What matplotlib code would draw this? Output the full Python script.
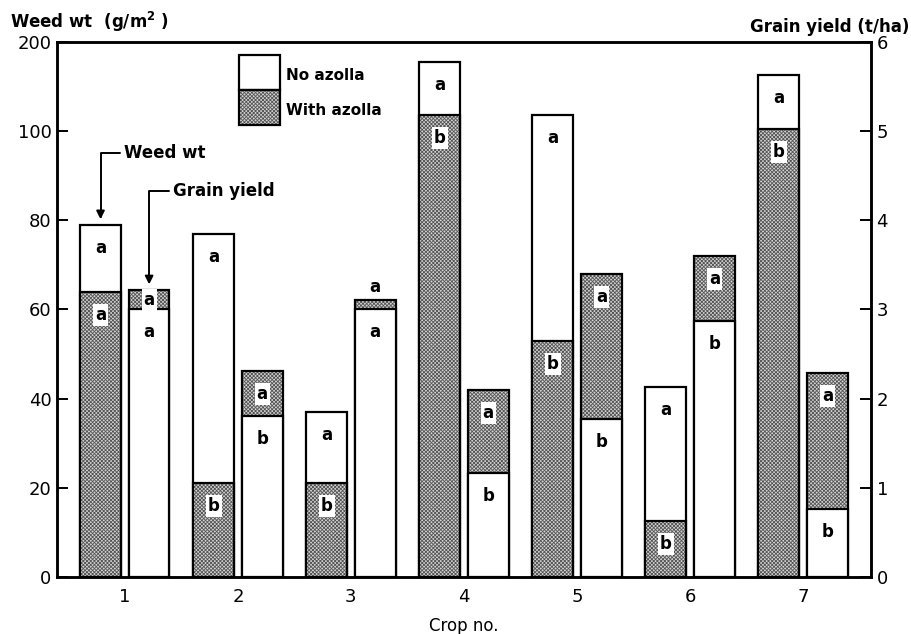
import numpy as np
import matplotlib
matplotlib.use('Agg')
from matplotlib import pyplot as plt
from matplotlib.patches import Rectangle

plt.rcParams['font.family'] = 'DejaVu Sans'
plt.rcParams['hatch.linewidth'] = 0.6

crops = [1, 2, 3, 4, 5, 6, 7]

# weed weight, g/m2
weed_no_azolla = [79, 77, 37, 115.5, 103.5, 42.5, 112.5]
weed_with_azolla = [64, 21, 21, 103.5, 53, 12.5, 100.5]
weed_no_letter = ['a', 'a', 'a', 'a', 'a', 'a', 'a']
weed_with_letter = ['a', 'b', 'b', 'b', 'b', 'b', 'b']

# grain yield, t/ha
grain_no_azolla = [3.0, 1.8, 3.0, 1.17, 1.77, 2.87, 0.76]
grain_with_azolla = [3.22, 2.31, 3.1, 2.1, 3.4, 3.6, 2.29]
grain_no_letter = ['a', 'b', 'a', 'b', 'b', 'b', 'b']
grain_with_letter = ['a', 'a', 'a', 'a', 'a', 'a', 'a']

left_ticks = [0, 20, 40, 60, 80, 100, 120]
left_ticklabels = ['0', '20', '40', '60', '80', '100', '200']
right_ticks = [0, 1, 2, 3, 4, 5, 6]

W = 0.36
OFF = 0.215
HATCH = 'x' * 9
SHADE_FC = '#d4d4d4'
SHADE_HC = '#555555'

fig = plt.figure(figsize=(9.12, 6.34), dpi=100)
ax = fig.add_axes([0.0625, 0.09, 0.8925, 0.844])
ax2 = ax.twinx()

def shaded_bar(a, x, v, z):
    # stipple fill first, then a plain black outline on top
    a.bar(x, v, W, color=SHADE_FC, hatch=HATCH, edgecolor=SHADE_HC, linewidth=0, zorder=z)
    a.bar(x, v, W, fill=False, edgecolor='black', linewidth=1.6, zorder=z)

def draw_pair(a, x, no_val, with_val, no_lab, with_lab, scale):
    # taller bar goes behind, shorter one in front
    bars = [(no_val, False, no_lab), (with_val, True, with_lab)]
    bars.sort(key=lambda b: -b[0])
    tops = [b[0] for b in bars]
    for i, (v, shaded, lab) in enumerate(bars):
        if shaded:
            shaded_bar(a, x, v, 2 + i)
        else:
            a.bar(x, v, W, color='white', edgecolor='black', linewidth=1.6, zorder=2 + i)
    # letters: top segment of the taller bar, then the front bar
    seg = [(tops[0], tops[0] - tops[1]), (tops[1], tops[1])]
    for (top, height), b in zip(seg, bars):
        px_h = height / scale * 4.47
        if px_h < 14:
            dy, va = 4, 'bottom'
            bb = None
        else:
            dy, va = -min(23, px_h / 2), 'center'
            bb = dict(boxstyle='square,pad=0.12', fc='white', ec='none') if b[1] else None
        a.annotate(b[2], (x, top), xytext=(0, dy), textcoords='offset pixels',
                   ha='center', va=va, fontsize=12, fontweight='bold', zorder=6,
                   bbox=bb)

for i, c in enumerate(crops):
    draw_pair(ax, c - OFF, weed_no_azolla[i], weed_with_azolla[i],
              weed_no_letter[i], weed_with_letter[i], 1.0)
    draw_pair(ax2, c + OFF, grain_no_azolla[i], grain_with_azolla[i],
              grain_no_letter[i], grain_with_letter[i], 0.05)

ax.set_xlim(0.4, 7.6)
ax.set_ylim(0, 120)
ax2.set_ylim(0, 6)
ax.set_xticks(crops)
ax.set_xticklabels([str(c) for c in crops])
ax.set_yticks(left_ticks)
ax.set_yticklabels(left_ticklabels)
ax2.set_yticks(right_ticks)
ax.tick_params(axis='x', length=0, labelsize=13, pad=8)
ax.tick_params(axis='y', direction='in', length=8, width=1.4, labelsize=13, pad=4)
ax2.tick_params(axis='y', direction='in', length=8, width=1.4, labelsize=13, pad=4)
for a in (ax, ax2):
    for s in a.spines.values():
        s.set_linewidth(1.8)
ax.set_xlabel('Crop no.', fontsize=12, labelpad=8)

fig.text(0.011, 0.965, 'Weed wt  (g/m$^\\mathbf{2}$ )', fontsize=12, fontweight='bold',
         va='center')
fig.text(0.997, 0.958, 'Grain yield (t/ha)', fontsize=12, fontweight='bold',
         va='center', ha='right')

# legend
tr = ax.transAxes
ax.add_patch(Rectangle((0.2236, 0.910), 0.0504, 0.066, transform=tr, fc='white',
                       ec='black', lw=1.6, zorder=5))
ax.add_patch(Rectangle((0.2236, 0.845), 0.0504, 0.065, transform=tr, fc=SHADE_FC,
                       ec=SHADE_HC, lw=0, hatch=HATCH, zorder=5))
ax.add_patch(Rectangle((0.2236, 0.845), 0.0504, 0.065, transform=tr, fill=False,
                       ec='black', lw=1.6, zorder=5))
ax.text(0.281, 0.938, 'No azolla', transform=tr, fontsize=11, fontweight='bold',
        va='center')
ax.text(0.281, 0.871, 'With azolla', transform=tr, fontsize=11, fontweight='bold',
        va='center')

# pointers to the first pair of bars
ax.annotate('Weed wt', xy=(1 - OFF, weed_no_azolla[0] + 1.2), xytext=(0.99, 95),
            fontsize=12, fontweight='bold', va='center', ha='left',
            arrowprops=dict(arrowstyle='-|>', lw=1.4, color='black',
                            connectionstyle='angle,angleA=180,angleB=90,rad=0',
                            shrinkA=1, shrinkB=0))
ax.annotate('Grain yield', xy=(1 + OFF, grain_with_azolla[0] * 20 + 1.2), xytext=(1.43, 86.6),
            fontsize=12, fontweight='bold', va='center', ha='left', zorder=7,
            arrowprops=dict(arrowstyle='-|>', lw=1.4, color='black',
                            connectionstyle='angle,angleA=180,angleB=90,rad=0',
                            shrinkA=1, shrinkB=0))

fig.savefig('out.png', dpi=100)
